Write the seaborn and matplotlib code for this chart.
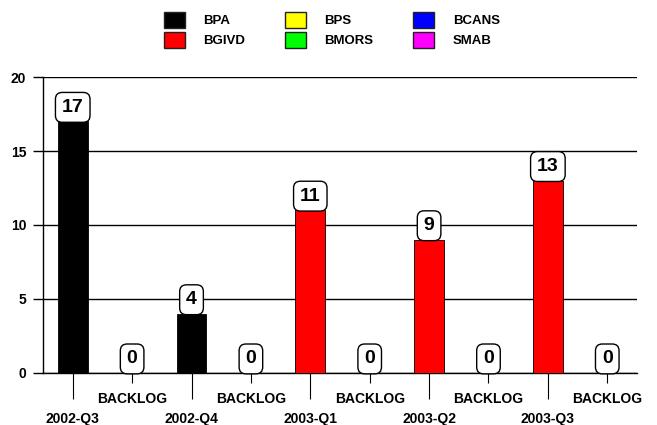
import matplotlib
matplotlib.use('Agg')
import matplotlib.pyplot as plt
import seaborn as sns
import pandas as pd

# slot labels along the x axis (quarter, then its backlog)
quarters = ["2002-Q3", "2002-Q4", "2003-Q1", "2003-Q2", "2003-Q3"]
slot_labels = ["2002-Q3", "BACKLOG", "2002-Q4", "BACKLOG", "2003-Q1", "BACKLOG",
               "2003-Q2", "BACKLOG", "2003-Q3", "BACKLOG"]

series_names = ["BPA", "BGIVD", "BPS", "BMORS", "BCANS", "SMAB"]
series_colors = ["#000000", "#ff0000", "#ffff00", "#00ff00", "#0000ff", "#ff00ff"]

bpa = [17, 0, 4, 0, 0, 0, 0, 0, 0, 0]
bgivd = [0, 0, 0, 0, 11, 0, 9, 0, 13, 0]
bps = [0, 0, 0, 0, 0, 0, 0, 0, 0, 0]
bmors = [0, 0, 0, 0, 0, 0, 0, 0, 0, 0]
bcans = [0, 0, 0, 0, 0, 0, 0, 0, 0, 0]
smab = [0, 0, 0, 0, 0, 0, 0, 0, 0, 0]

values = [bpa, bgivd, bps, bmors, bcans, smab]

rows = []
for name, vals in zip(series_names, values):
    for i, v in enumerate(vals):
        rows.append({"slot": i, "series": name, "value": v})
df = pd.DataFrame(rows)
totals = [sum(v[i] for v in values) for i in range(len(slot_labels))]

sns.set_theme(style="white")
plt.rcParams['font.family'] = ['Liberation Sans', 'DejaVu Sans']
plt.rcParams['font.weight'] = 'bold'
plt.rcParams['text.color'] = 'black'
plt.rcParams['xtick.color'] = 'black'
plt.rcParams['ytick.color'] = 'black'

fig = plt.figure(figsize=(6.57, 4.25), dpi=100)
ax = fig.add_axes([0.0655, 0.1224, 0.904, 0.6964])

sns.barplot(data=df, x="slot", y="value", hue="series", hue_order=series_names,
            palette=dict(zip(series_names, series_colors)), dodge=False,
            saturation=1, width=0.5, edgecolor="black", linewidth=0.6, ax=ax, zorder=3)

handles, labels = ax.get_legend_handles_labels()
ax.get_legend().remove()
for h in handles:
    h.set_edgecolor("#222222")
    h.set_linewidth(1.0)
fig.legend(handles, labels, loc="upper center", bbox_to_anchor=(0.505, 1.0),
           ncol=3, frameon=False, handlelength=1.6, handleheight=1.45,
           handletextpad=1.4, columnspacing=3.0, labelspacing=0.35,
           prop={'weight': 'bold', 'size': 9.5})

# value labels in rounded boxes
for i, t in enumerate(totals):
    ax.annotate(str(t), (i, t), xytext=(0, 4), textcoords="offset points",
                ha="center", va="bottom", fontsize=14, fontweight="bold", zorder=5,
                bbox=dict(boxstyle="round,pad=0.33,rounding_size=0.35",
                          fc="white", ec="black", lw=1.0))

ax.set_xlim(-0.5, len(slot_labels) - 0.5)
ax.set_ylim(0, 20)
ax.set_yticks([0, 5, 10, 15, 20])
ax.yaxis.grid(True, color="black", linewidth=1.0)
ax.set_axisbelow(True)

ax.set_xticks(range(0, 10, 2))
ax.set_xticklabels(quarters)
ax.set_xticks(range(1, 10, 2), minor=True)
ax.set_xticklabels(slot_labels[1::2], minor=True)
ax.tick_params(axis="x", which="major", length=19, width=0.8, pad=9, labelsize=10,
               color="black", direction="out", bottom=True)
ax.tick_params(axis="x", which="minor", length=7, width=0.8, pad=7, labelsize=10,
               color="black", direction="out", bottom=True)
ax.tick_params(axis="y", length=7, width=1.0, pad=5, labelsize=10, color="black",
               direction="out", left=True)
for lbl in ax.get_xticklabels(which="both") + ax.get_yticklabels():
    lbl.set_fontweight("bold")

ax.set_xlabel("")
ax.set_ylabel("")
for s in ["top", "right"]:
    ax.spines[s].set_visible(False)
for s in ["left", "bottom"]:
    ax.spines[s].set_color("black")
    ax.spines[s].set_linewidth(1.0)

fig.savefig("out.png", dpi=100)
